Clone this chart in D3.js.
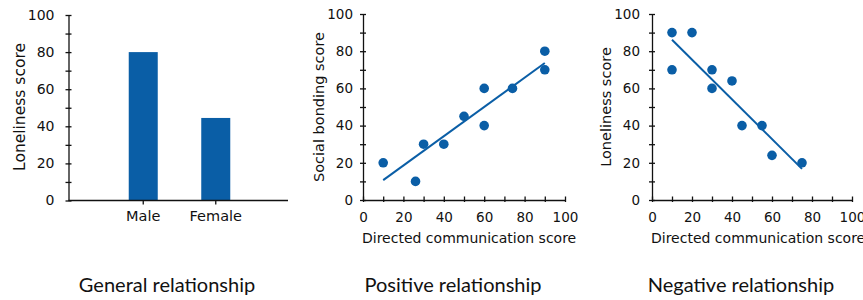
<!DOCTYPE html>
<html>
<head>
<meta charset="utf-8">
<style>
  body { margin: 0; background: #fff; }
  .axis text { font-family: "DejaVu Sans", Verdana, sans-serif; fill: #111; }
  .axis path, .axis line { stroke: #111; stroke-width: 1.3; }
  .ttl { font-family: "DejaVu Sans", Verdana, sans-serif; fill: #111; }
  .cap { font-family: Lato, "Open Sans", sans-serif; font-size: 20px; fill: #111; }
</style>
</head>
<body>
<svg width="863" height="300"></svg>
<script src="https://cdn.jsdelivr.net/npm/d3@7"></script>
<script>
// data
var sexes = ["Male", "Female"];
var lonelyBySex = [80, 44.5];

var posX = [10, 26, 30, 40, 50, 60, 60, 74, 90, 90];
var posY = [20, 10, 30, 30, 45, 60, 40, 60, 80, 70];

var negX = [10, 10, 20, 30, 30, 40, 45, 55, 60, 75];
var negY = [90, 70, 90, 70, 60, 64, 40, 40, 24, 20];

var scoreTicks = d3.range(0, 101, 10);
var captions = ["General relationship", "Positive relationship", "Negative relationship"];

var blue = "#0a5ea6";
var svg = d3.select("svg");

// least squares line through the points
function fit(xs, ys) {
  var mx = d3.mean(xs), my = d3.mean(ys);
  var sxy = d3.sum(xs, function(x, i) { return (x - mx) * (ys[i] - my); });
  var sxx = d3.sum(xs, function(x) { return (x - mx) * (x - mx); });
  var b = sxy / sxx;
  return function(x) { return my + b * (x - mx); };
}

function leftAxis(g, y, gap, size) {
  g.attr("class", "axis")
    .call(d3.axisLeft(y).tickValues(scoreTicks).tickSizeOuter(0).tickPadding(gap)
      .tickFormat(function(d) { return d % 20 === 0 ? d : ""; }));
  g.selectAll(".tick line").attr("x1", -3).attr("x2", 3);
  g.selectAll("text").style("font-size", size + "px");
}

// ---- panel 1: bars
var y1 = d3.scaleLinear().domain([0, 100]).range([200.5, 15]);
var x1 = d3.scaleBand().domain(sexes).range([70, 289]).paddingInner(0.6).paddingOuter(0.81);

svg.append("g").selectAll("rect")
  .data(sexes)
  .enter().append("rect")
    .attr("x", function(d) { return x1(d); })
    .attr("width", x1.bandwidth())
    .attr("y", function(d, i) { return y1(lonelyBySex[i]); })
    .attr("height", function(d, i) { return y1(0) - y1(lonelyBySex[i]); })
    .attr("fill", blue);

var gx1 = svg.append("g").attr("transform", "translate(0," + y1(0) + ")")
  .attr("class", "axis")
  .call(d3.axisBottom(x1).tickSizeOuter(0).tickSize(4).tickPadding(6));
gx1.select(".domain").attr("d", "M68.5,0H288");
gx1.selectAll("text").style("font-size", "14.5px");

leftAxis(svg.append("g").attr("transform", "translate(68.5,0)"), y1, 8, 14);

svg.append("text").attr("class", "ttl")
  .attr("transform", "translate(25,107) rotate(-90)")
  .attr("text-anchor", "middle")
  .style("font-size", "15.5px")
  .text("Loneliness score");

// ---- scatter panels
function scatter(xs, ys, x0, x100, yGap, yTitle, yTitleX) {
  var x = d3.scaleLinear().domain([0, 100]).range([x0, x100]);
  var y = d3.scaleLinear().domain([0, 100]).range([200, 14]);
  var line = fit(xs, ys);
  var ext = d3.extent(xs);

  svg.append("line")
    .attr("x1", x(ext[0])).attr("y1", y(line(ext[0])))
    .attr("x2", x(ext[1])).attr("y2", y(line(ext[1])))
    .attr("stroke", blue).attr("stroke-width", 2);

  svg.append("g").selectAll("circle")
    .data(xs)
    .enter().append("circle")
      .attr("cx", function(d) { return x(d); })
      .attr("cy", function(d, i) { return y(ys[i]); })
      .attr("r", 4.8)
      .attr("fill", blue);

  var gx = svg.append("g").attr("class", "axis")
    .attr("transform", "translate(0," + y(0) + ")")
    .call(d3.axisBottom(x).tickValues(scoreTicks).tickSizeOuter(0).tickPadding(6)
      .tickFormat(function(d) { return d % 20 === 0 ? d : ""; }));
  gx.selectAll(".tick line").attr("y1", -3.5).attr("y2", 2);
  gx.selectAll("text").style("font-size", "13.5px");

  leftAxis(svg.append("g").attr("transform", "translate(" + x0 + ",0)"), y, yGap, 13.5);

  svg.append("text").attr("class", "ttl")
    .attr("x", x0 - 1).attr("y", 243)
    .style("font-size", "14px")
    .text("Directed communication score");

  svg.append("text").attr("class", "ttl")
    .attr("transform", "translate(" + yTitleX + ",107) rotate(-90)")
    .attr("text-anchor", "middle")
    .style("font-size", "14.5px")
    .text(yTitle);
}

scatter(posX, posY, 363, 565, 4, "Social bonding score", 324);
scatter(negX, negY, 652, 852, 6, "Loneliness score", 611);

// ---- captions
svg.selectAll(".cap")
  .data(captions)
  .enter().append("text")
    .attr("class", "cap")
    .attr("x", function(d, i) { return [167, 453, 741][i]; })
    .attr("y", 292)
    .attr("text-anchor", "middle")
    .text(function(d) { return d; });
</script>
</body>
</html>
